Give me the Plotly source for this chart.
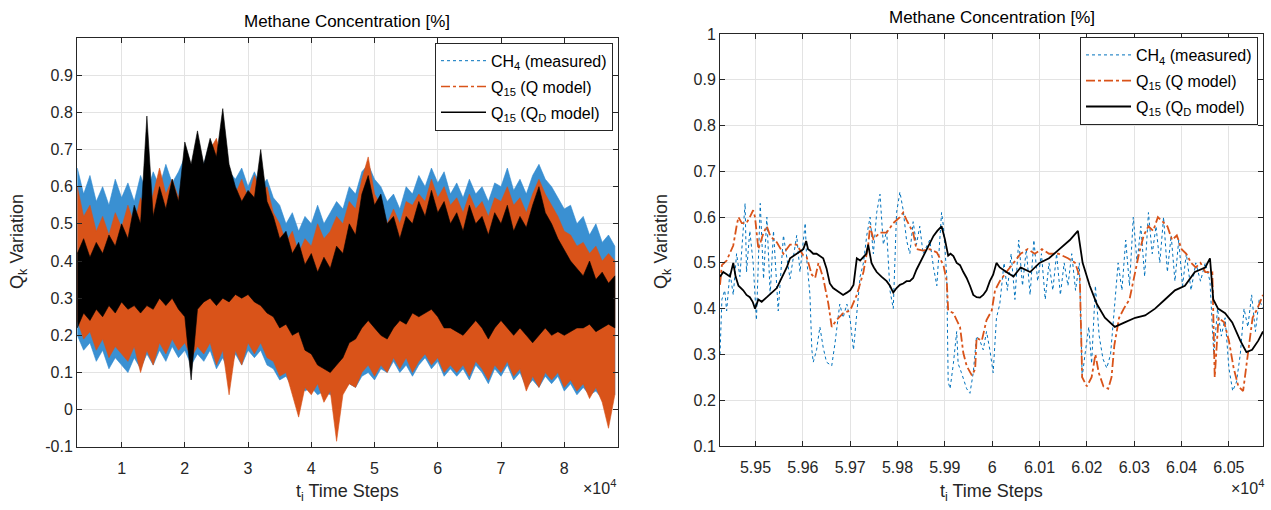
import plotly.graph_objects as go

# ---------------- Left panel: envelopes of the dense signals ----------------
T_left = list(range(3000, 89000, 1000))  # 86 sample positions

blue_up = [0.65,0.58,0.63,0.56,0.60,0.55,0.62,0.57,0.61,0.56,
           0.63,0.58,0.64,0.60,0.66,0.61,0.64,0.68,0.65,0.70,
           0.66,0.72,0.68,0.70,0.64,0.62,0.65,0.60,0.64,0.60,
           0.62,0.57,0.55,0.50,0.53,0.48,0.52,0.50,0.55,0.50,
           0.53,0.56,0.54,0.60,0.58,0.64,0.66,0.62,0.60,0.56,
           0.58,0.54,0.60,0.58,0.63,0.60,0.65,0.61,0.64,0.58,
           0.61,0.57,0.62,0.58,0.60,0.56,0.61,0.60,0.65,0.59,
           0.62,0.58,0.63,0.66,0.62,0.60,0.57,0.54,0.55,0.50,
           0.52,0.47,0.50,0.45,0.47,0.44]
blue_lo = [0.20,0.16,0.18,0.13,0.16,0.11,0.14,0.12,0.10,0.14,
           0.11,0.15,0.12,0.16,0.13,0.17,0.14,0.16,0.12,0.15,
           0.13,0.16,0.11,0.14,0.10,0.15,0.12,0.16,0.14,0.16,
           0.12,0.11,0.08,0.09,0.06,0.07,0.05,0.06,0.04,0.05,
           0.04,0.05,0.05,0.07,0.06,0.09,0.10,0.08,0.11,0.10,
           0.13,0.10,0.12,0.09,0.12,0.14,0.11,0.13,0.09,0.11,
           0.09,0.11,0.08,0.12,0.10,0.07,0.11,0.09,0.12,0.08,
           0.10,0.06,0.08,0.06,0.09,0.07,0.09,0.05,0.07,0.04,
           0.06,0.04,0.05,0.03,0.05,0.04]
orange_up = [0.60,0.52,0.55,0.48,0.52,0.47,0.53,0.49,0.55,0.50,
             0.57,0.52,0.58,0.65,0.58,0.62,0.57,0.65,0.60,0.67,
             0.62,0.70,0.73,0.66,0.62,0.58,0.62,0.57,0.63,0.58,
             0.60,0.53,0.50,0.45,0.48,0.42,0.46,0.44,0.50,0.46,
             0.48,0.52,0.50,0.56,0.54,0.62,0.68,0.58,0.55,0.50,
             0.54,0.50,0.56,0.55,0.58,0.56,0.62,0.57,0.60,0.55,
             0.57,0.53,0.58,0.54,0.56,0.52,0.57,0.56,0.60,0.55,
             0.57,0.53,0.58,0.62,0.58,0.55,0.52,0.48,0.47,0.44,
             0.45,0.42,0.44,0.40,0.42,0.40]
orange_lo = [0.24,0.19,0.21,0.16,0.19,0.14,0.17,0.15,0.13,0.17,
             0.10,0.16,0.12,0.18,0.15,0.19,0.16,0.18,0.14,0.17,
             0.15,0.18,0.12,0.16,0.04,0.16,0.12,0.18,0.15,0.18,
             0.14,0.13,0.09,0.10,0.04,-0.02,0.06,0.04,0.07,0.02,
             0.05,-0.085,0.04,0.07,0.06,0.10,0.12,0.09,0.12,0.10,
             0.14,0.11,0.14,0.10,0.13,0.15,0.12,0.14,0.10,0.12,
             0.10,0.12,0.09,0.13,0.11,0.08,0.12,0.10,0.13,0.09,
             0.11,0.05,0.09,0.06,0.10,0.08,0.10,0.06,0.08,0.05,
             0.07,0.03,0.06,0.02,-0.05,0.04]
black_up = [0.42,0.46,0.41,0.45,0.42,0.47,0.44,0.50,0.46,0.55,
            0.50,0.79,0.52,0.60,0.54,0.62,0.56,0.72,0.66,0.75,
            0.66,0.73,0.68,0.81,0.66,0.60,0.56,0.59,0.57,0.70,
            0.56,0.52,0.46,0.48,0.42,0.45,0.39,0.42,0.37,0.41,
            0.38,0.44,0.42,0.50,0.47,0.58,0.63,0.55,0.58,0.50,
            0.52,0.46,0.52,0.50,0.56,0.52,0.59,0.53,0.56,0.50,
            0.53,0.48,0.55,0.50,0.52,0.47,0.53,0.50,0.55,0.48,
            0.52,0.49,0.55,0.60,0.53,0.50,0.46,0.43,0.40,0.38,
            0.36,0.40,0.35,0.37,0.34,0.36]
black_lo = [0.22,0.26,0.24,0.27,0.25,0.28,0.26,0.29,0.27,0.28,
            0.26,0.28,0.27,0.30,0.28,0.30,0.27,0.25,0.08,0.27,
            0.29,0.30,0.28,0.30,0.29,0.31,0.30,0.31,0.29,0.28,
            0.26,0.25,0.22,0.23,0.20,0.21,0.16,0.15,0.12,0.11,
            0.10,0.12,0.14,0.18,0.19,0.22,0.24,0.22,0.20,0.19,
            0.22,0.24,0.23,0.26,0.25,0.26,0.27,0.25,0.22,0.22,
            0.21,0.20,0.22,0.24,0.22,0.19,0.22,0.24,0.22,0.20,
            0.22,0.20,0.18,0.20,0.22,0.20,0.21,0.20,0.21,0.22,
            0.22,0.23,0.21,0.22,0.23,0.22]

# ---------------- Right panel: zoomed window ----------------
t_meas = [59425,59429,59435,59439,59446,59453,59460,59467,59478,59481,59488,59495,59502,59510,
          59517,59524,59531,59538,59548,59559,59573,59587,59594,59605,59608,59615,59619,59622,
          59629,59636,59643,59650,59661,59668,59678,59685,59693,59700,59707,59714,59721,59728,
          59735,59742,59749,59756,59763,59770,59777,59784,59791,59798,59805,59812,59819,59826,
          59833,59840,59847,59854,59868,59876,59883,59893,59897,59904,59907,59911,59918,59925,
          59928,59935,59946,59953,59960,59967,59974,59981,59988,59995,60002,60009,60016,60025,
          60032,60040,60048,60056,60064,60072,60080,60088,60096,60104,60112,60120,60128,60136,
          60144,60152,60160,60168,60176,60184,60190,60196,60204,60210,60218,60226,60234,60242,
          60250,60258,60266,60274,60282,60290,60298,60306,60314,60322,60330,60338,60346,60354,
          60362,60370,60378,60386,60394,60402,60410,60420,60430,60440,60450,60460,60468,60476,
          60484,60492,60500,60508,60516,60524,60532,60540,60548,60556,60564,60572]
v_meas = [0.30,0.42,0.44,0.395,0.48,0.43,0.52,0.47,0.63,0.48,0.57,0.50,0.375,0.63,
          0.465,0.60,0.43,0.57,0.395,0.56,0.465,0.56,0.48,0.587,0.51,0.43,0.31,0.283,
          0.31,0.36,0.315,0.283,0.275,0.325,0.41,0.38,0.41,0.375,0.31,0.39,0.47,0.50,
          0.56,0.60,0.52,0.61,0.65,0.54,0.57,0.44,0.40,0.61,0.655,0.615,0.55,0.52,
          0.59,0.54,0.58,0.52,0.55,0.49,0.45,0.61,0.58,0.47,0.24,0.225,0.28,0.35,
          0.28,0.26,0.225,0.215,0.26,0.34,0.33,0.31,0.35,0.31,0.26,0.38,0.41,0.50,
          0.44,0.52,0.42,0.55,0.45,0.53,0.43,0.55,0.46,0.52,0.42,0.50,0.44,0.52,
          0.43,0.50,0.45,0.52,0.44,0.50,0.25,0.30,0.36,0.28,0.45,0.34,0.29,0.27,
          0.30,0.40,0.50,0.44,0.55,0.45,0.60,0.50,0.58,0.47,0.61,0.52,0.58,0.50,
          0.60,0.48,0.56,0.46,0.55,0.45,0.52,0.44,0.50,0.46,0.50,0.46,0.30,0.40,
          0.34,0.38,0.27,0.22,0.24,0.30,0.40,0.36,0.43,0.35,0.42,0.40]

t_q = [59425,59429,59439,59453,59460,59464,59471,59481,59488,59495,59499,59502,59506,59517,
       59524,59531,59545,59559,59573,59587,59601,59608,59619,59626,59633,59643,59654,59661,
       59671,59685,59700,59714,59728,59738,59742,59749,59763,59777,59791,59805,59812,59819,
       59833,59840,59854,59868,59883,59897,59904,59907,59918,59925,59932,59939,59946,59957,
       59964,59967,59978,59988,59999,60006,60016,60030,60045,60060,60075,60090,60105,60120,
       60140,60160,60175,60185,60190,60200,60210,60218,60225,60235,60245,60252,60258,60268,
       60278,60290,60300,60310,60320,60330,60340,60350,60360,60370,60380,60390,60400,60410,
       60420,60430,60440,60450,60465,60470,60478,60490,60500,60510,60520,60530,60540,60550,
       60560,60572]
v_q = [0.452,0.495,0.505,0.538,0.58,0.60,0.587,0.587,0.60,0.615,0.60,0.573,0.53,0.566,
       0.58,0.559,0.545,0.52,0.54,0.54,0.516,0.513,0.474,0.467,0.50,0.467,0.41,0.36,
       0.375,0.39,0.396,0.43,0.48,0.538,0.58,0.552,0.566,0.566,0.587,0.60,0.61,0.594,
       0.566,0.53,0.527,0.53,0.523,0.495,0.46,0.396,0.39,0.375,0.36,0.303,0.275,0.254,
       0.268,0.336,0.33,0.375,0.396,0.44,0.46,0.48,0.50,0.52,0.53,0.52,0.53,0.52,
       0.52,0.51,0.50,0.47,0.25,0.23,0.25,0.30,0.26,0.23,0.225,0.25,0.32,0.38,
       0.40,0.42,0.47,0.52,0.56,0.58,0.57,0.60,0.59,0.58,0.55,0.56,0.53,0.52,
       0.50,0.49,0.50,0.48,0.48,0.25,0.38,0.37,0.33,0.27,0.23,0.22,0.30,0.38,
       0.40,0.43]

t_qd = [59425,59432,59439,59446,59453,59458,59464,59474,59481,59488,59494,59499,59506,59513,
        59524,59535,59545,59552,59559,59566,59573,59580,59587,59594,59601,59607,59611,59615,
        59622,59629,59636,59643,59650,59657,59664,59671,59678,59685,59693,59700,59707,59712,
        59714,59721,59728,59734,59738,59745,59750,59756,59766,59777,59784,59791,59798,59805,
        59812,59819,59826,59833,59840,59847,59854,59861,59868,59876,59884,59893,59900,59907,
        59912,59918,59925,59932,59939,59946,59953,59960,59967,59974,59981,59988,59995,60002,
        60009,60016,60030,60045,60060,60080,60100,60120,60142,60164,60181,60191,60206,60221,
        60238,60259,60280,60302,60323,60344,60365,60386,60407,60428,60450,60460,60467,60477,
        60492,60507,60524,60537,60549,60562,60572]
v_qd = [0.47,0.48,0.475,0.47,0.50,0.47,0.45,0.44,0.43,0.425,0.415,0.40,0.42,0.415,
        0.425,0.435,0.445,0.46,0.475,0.49,0.51,0.515,0.52,0.525,0.53,0.548,0.53,0.527,
        0.52,0.52,0.515,0.51,0.488,0.455,0.445,0.44,0.435,0.43,0.435,0.44,0.452,0.49,
        0.51,0.505,0.513,0.52,0.54,0.50,0.49,0.48,0.47,0.46,0.45,0.435,0.445,0.452,
        0.455,0.46,0.46,0.467,0.485,0.50,0.515,0.53,0.545,0.559,0.57,0.58,0.552,0.516,
        0.52,0.515,0.50,0.495,0.48,0.467,0.45,0.43,0.425,0.424,0.43,0.44,0.46,0.474,
        0.50,0.49,0.48,0.47,0.49,0.48,0.50,0.51,0.53,0.55,0.57,0.50,0.45,0.41,
        0.38,0.36,0.37,0.38,0.385,0.40,0.42,0.44,0.45,0.48,0.49,0.51,0.42,0.40,
        0.39,0.37,0.33,0.305,0.31,0.33,0.35]

# tick labels
left_xticks = [10000, 20000, 30000, 40000, 50000, 60000, 70000, 80000]
left_xtext = ["1", "2", "3", "4", "5", "6", "7", "8"]
left_yticks = [-0.1, 0, 0.1, 0.2, 0.3, 0.4, 0.5, 0.6, 0.7, 0.8, 0.9]
left_ytext = ["-0.1", "0", "0.1", "0.2", "0.3", "0.4", "0.5", "0.6", "0.7", "0.8", "0.9"]
right_xticks = [59500, 59600, 59700, 59800, 59900, 60000, 60100, 60200, 60300, 60400, 60500]
right_xtext = ["5.95", "5.96", "5.97", "5.98", "5.99", "6", "6.01", "6.02", "6.03", "6.04", "6.05"]
right_yticks = [0.1, 0.2, 0.3, 0.4, 0.5, 0.6, 0.7, 0.8, 0.9, 1.0]
right_ytext = ["0.1", "0.2", "0.3", "0.4", "0.5", "0.6", "0.7", "0.8", "0.9", "1"]

names = ["CH<sub>4</sub> (measured)", "Q<sub>15</sub> (Q model)", "Q<sub>15</sub> (Q<sub>D</sub> model)"]
C_BLUE = "#0072BD"
C_ORANGE = "#D95319"
C_BLACK = "#000000"

W, H = 1271, 510
FONT = "Liberation Sans, Arial, sans-serif"
TXT = "#262626"

fig = go.Figure()

def band(up, lo, color, fill):
    return go.Scatter(x=T_left + T_left[::-1], y=up + lo[::-1], fill="toself",
                      fillcolor=fill, mode="lines", line=dict(color=color, width=0.6),
                      hoverinfo="skip", showlegend=False, xaxis="x", yaxis="y")

fig.add_trace(band(blue_up, blue_lo, "#2f8ad0", "#3a90d2"))
fig.add_trace(band(orange_up, orange_lo, C_ORANGE, C_ORANGE))
fig.add_trace(band(black_up, black_lo, C_BLACK, C_BLACK))

styles = [dict(color=C_BLUE, width=1, dash="dot"),
          dict(color=C_ORANGE, width=1.6, dash="dashdot"),
          dict(color=C_BLACK, width=1.6, dash="solid")]
for i, (nm, st) in enumerate(zip(names, styles)):
    fig.add_trace(go.Scatter(x=[None], y=[None], mode="lines", name=nm, line=st,
                             legend="legend", legendgroup="L%d" % i, xaxis="x", yaxis="y"))

rstyles = [dict(color=C_BLUE, width=1, dash="dot"),
           dict(color=C_ORANGE, width=1.8, dash="dashdot"),
           dict(color=C_BLACK, width=1.8)]
for i, (tt, vv) in enumerate([(t_meas, v_meas), (t_q, v_q), (t_qd, v_qd)]):
    fig.add_trace(go.Scatter(x=tt, y=vv, mode="lines", name=names[i], line=rstyles[i],
                             legend="legend2", legendgroup="R%d" % i, xaxis="x2", yaxis="y2"))

axis_common = dict(showline=True, linecolor=TXT, linewidth=1, mirror="ticks",
                   ticks="inside", ticklen=5, tickcolor=TXT, showgrid=True,
                   gridcolor="#e3e3e3", gridwidth=1, zeroline=False,
                   tickfont=dict(family=FONT, size=16, color=TXT))

leg_common = dict(bgcolor="white", bordercolor=TXT, borderwidth=1, tracegroupgap=2,
                  itemwidth=45, font=dict(family=FONT, size=16, color="#000000"))

fig.update_layout(
    width=W, height=H, margin=dict(l=0, r=0, t=0, b=0),
    paper_bgcolor="white", plot_bgcolor="white",
    font=dict(family=FONT, color=TXT),
    xaxis=dict(domain=[77 / W, 618 / W], range=[2950, 88500], tickmode="array",
               tickvals=left_xticks, ticktext=left_xtext, anchor="y",
               ticklabelstandoff=7, **axis_common),
    yaxis=dict(domain=[1 - 454 / H, 1 - 31 / H], range=[-0.1, 1.0], tickmode="array",
               tickvals=left_yticks, ticktext=left_ytext, anchor="x", **axis_common),
    xaxis2=dict(domain=[720 / W, 1263 / W], range=[59425, 60572], tickmode="array",
                tickvals=right_xticks, ticktext=right_xtext, anchor="y2",
                ticklabelstandoff=7, **axis_common),
    yaxis2=dict(domain=[1 - 453 / H, 1 - 27 / H], range=[0.1, 1.0], tickmode="array",
                tickvals=right_yticks, ticktext=right_ytext, anchor="x2", **axis_common),
    legend=dict(x=613 / W, xanchor="right", y=1 - 36 / H, yanchor="top", **leg_common),
    legend2=dict(x=1258 / W, xanchor="right", y=1 - 30 / H, yanchor="top", **leg_common),
)

ann = []
for cx, cy in [((77 + 618) / 2, 14), ((720 + 1263) / 2, 10)]:
    ann.append(dict(text="Methane Concentration [%]", x=cx / W, y=1 - cy / H, xref="paper",
                    yref="paper", showarrow=False, font=dict(family=FONT, size=17, color="#000000"),
                    xanchor="center", yanchor="middle"))
for cx in [(77 + 618) / 2, (720 + 1263) / 2]:
    ann.append(dict(text="t<sub>i</sub> Time Steps", x=cx / W, y=1 - 501 / H, xref="paper",
                    yref="paper", showarrow=False, font=dict(family=FONT, size=18, color=TXT),
                    xanchor="center", yanchor="middle"))
for cx in [19, 663]:
    ann.append(dict(text="Q<sub>k</sub> Variation", x=cx / W, y=1 - 242 / H, xref="paper",
                    yref="paper", showarrow=False, textangle=-90,
                    font=dict(family=FONT, size=18, color=TXT), xanchor="center", yanchor="middle"))
for rx in [618, 1266]:
    ann.append(dict(text="\u00d710<sup>4</sup>", x=rx / W, y=1 - 496 / H, xref="paper",
                    yref="paper", showarrow=False, font=dict(family=FONT, size=16, color=TXT),
                    xanchor="right", yanchor="middle"))
fig.update_layout(annotations=ann)

fig.write_html("out.html")
